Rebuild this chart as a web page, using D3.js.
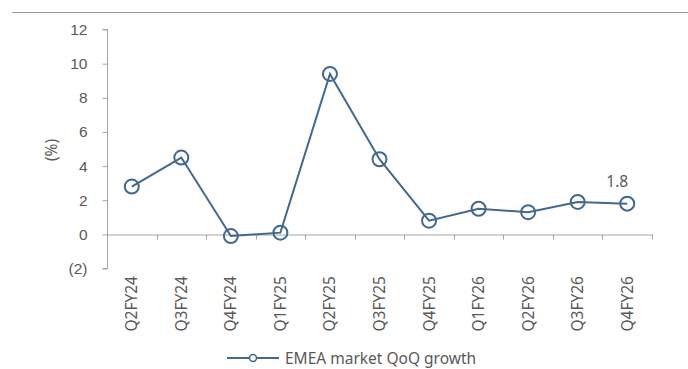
<!DOCTYPE html>
<html>
<head>
<meta charset="utf-8">
<script src="https://cdn.jsdelivr.net/npm/d3@7"></script>
<style>
  html, body { margin: 0; padding: 0; background: #fff; }
  svg { display: block; font-family: "Noto Sans", "Open Sans", sans-serif; }
</style>
</head>
<body>
<svg id="chart" width="688" height="369"></svg>
<script>
// Quarterly EMEA market growth, quarter over quarter (%)
const quarters = ["Q2FY24", "Q3FY24", "Q4FY24", "Q1FY25", "Q2FY25", "Q3FY25",
                  "Q4FY25", "Q1FY26", "Q2FY26", "Q3FY26", "Q4FY26"];
const growth = [2.8, 4.5, -0.1, 0.1, 9.4, 4.4, 0.8, 1.5, 1.3, 1.9, 1.8];
const yTicks = [-2, 0, 2, 4, 6, 8, 10, 12];
const seriesName = "EMEA market QoQ growth";

const lineColor = "#41698f";
const axisColor = "#a6a6a6";
const textColor = "#595959";
const fontSize = "15.5px";

const svg = d3.select("#chart");

const x = d3.scaleBand().domain(quarters).range([107, 652]);
const y = d3.scaleLinear().domain([-2, 12]).range([268.5, 29.5]);

const fmt = v => v < 0 ? `(${Math.abs(v)})` : `${v}`;

// top rule
svg.append("line")
  .attr("x1", 12).attr("x2", 688).attr("y1", 12.5).attr("y2", 12.5)
  .attr("stroke", "#999").attr("stroke-width", 1);

// y axis
const yAxis = svg.append("g")
  .attr("transform", "translate(107.5,0)")
  .call(d3.axisLeft(y).tickValues(yTicks).tickFormat(fmt).tickSize(5).tickPadding(15));
yAxis.select(".domain").attr("stroke", axisColor).attr("d", `M-5,${y(12)}H0V${y(-2)}H-5`);
yAxis.selectAll(".tick line").attr("stroke", axisColor);
yAxis.selectAll(".tick text").attr("fill", textColor).style("font-size", fontSize);

// x axis on the zero line
const xAxis = svg.append("g")
  .attr("transform", `translate(0,${Math.round(y(0)) + 0.5})`)
  .call(d3.axisBottom(x).tickValues([]).tickSizeOuter(0));
xAxis.select(".domain").attr("stroke", axisColor);
// category boundary ticks
const bounds = quarters.map(q => x(q) + x.bandwidth()).concat([x.range()[0]]);
xAxis.selectAll("line.bound").data(bounds).enter().append("line")
  .attr("class", "bound")
  .attr("x1", d => Math.round(d) + 0.5).attr("x2", d => Math.round(d) + 0.5)
  .attr("y1", 0).attr("y2", 5)
  .attr("stroke", axisColor);

// category labels, rotated, below the plot
svg.append("g").selectAll("text").data(quarters).enter().append("text")
  .attr("transform", d => `translate(${x(d) + x.bandwidth() / 2 + 5.5},276) rotate(-90)`)
  .attr("text-anchor", "end")
  .attr("fill", textColor)
  .style("font-size", fontSize)
  .text(d => d);

// y title
svg.append("text")
  .attr("transform", "translate(57,150) rotate(-90)")
  .attr("text-anchor", "middle")
  .attr("fill", textColor)
  .style("font-size", fontSize)
  .text("(%)");

// series
const cx = d => x(d) + x.bandwidth() / 2;
const line = d3.line().x((d, i) => cx(quarters[i])).y(d => y(d));
svg.append("path")
  .datum(growth)
  .attr("d", line)
  .attr("fill", "none")
  .attr("stroke", lineColor)
  .attr("stroke-width", 2);

svg.append("g").selectAll("circle").data(growth).enter().append("circle")
  .attr("cx", (d, i) => cx(quarters[i]))
  .attr("cy", d => y(d))
  .attr("r", 7)
  .attr("fill", "none")
  .attr("stroke", lineColor)
  .attr("stroke-width", 2);

// value label on the latest quarter
const last = growth.length - 1;
svg.append("text")
  .attr("x", cx(quarters[last]) - 10)
  .attr("y", y(growth[last]) - 17)
  .attr("text-anchor", "middle")
  .attr("fill", textColor)
  .style("font-size", fontSize)
  .text(growth[last].toFixed(1));

// legend
const lg = svg.append("g").attr("transform", "translate(227,358)");
lg.append("line").attr("x1", 0).attr("x2", 52).attr("y1", 0).attr("y2", 0)
  .attr("stroke", lineColor).attr("stroke-width", 2);
lg.append("circle").attr("cx", 26).attr("cy", 0).attr("r", 3.5)
  .attr("fill", "#fff").attr("stroke", lineColor).attr("stroke-width", 1.5);
lg.append("text").attr("x", 58).attr("y", 5.5)
  .attr("fill", textColor).style("font-size", fontSize)
  .text(seriesName);
</script>
</body>
</html>
